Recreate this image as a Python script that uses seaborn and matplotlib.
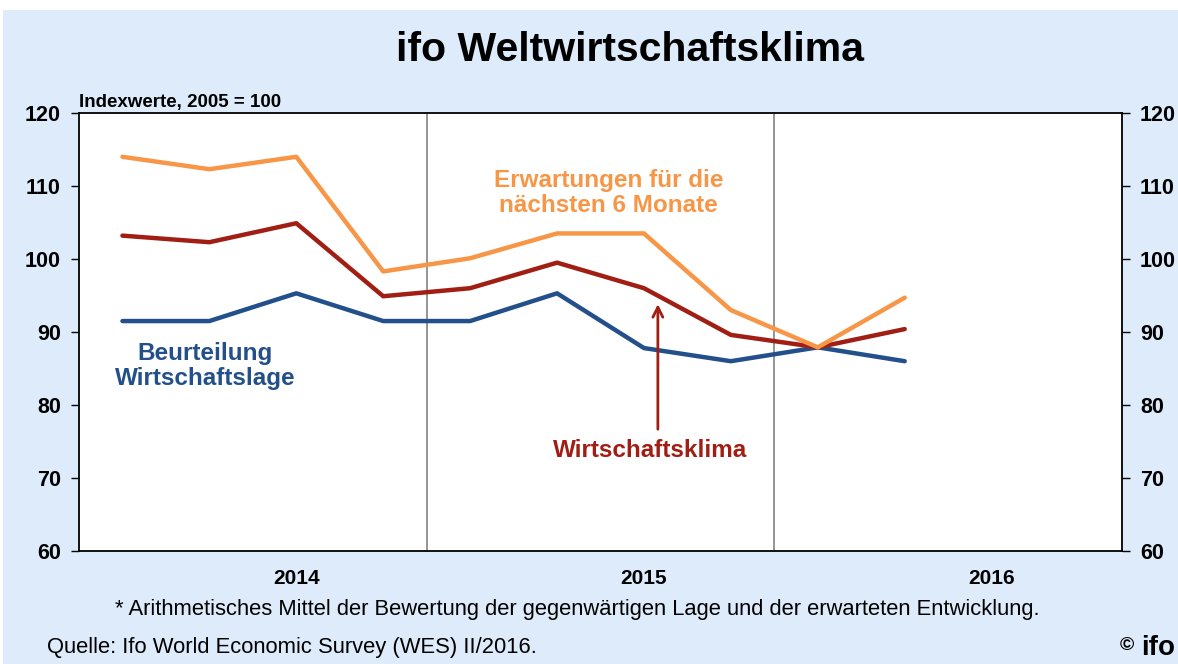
import matplotlib
matplotlib.use("Agg")
import matplotlib.pyplot as plt
from matplotlib.patches import Rectangle
import numpy as np
import pandas as pd
import seaborn as sns

# quarterly values, I/2014 .. II/2016
quarters = ["I/14", "II/14", "III/14", "IV/14", "I/15", "II/15", "III/15", "IV/15", "I/16", "II/16"]
erwartungen = [114.0, 112.3, 114.0, 98.3, 100.1, 103.5, 103.5, 93.0, 87.9, 94.7]
klima = [103.2, 102.3, 104.9, 94.9, 96.0, 99.5, 96.0, 89.6, 87.9, 90.4]
lage = [91.5, 91.5, 95.3, 91.5, 91.5, 95.3, 87.8, 86.0, 87.9, 86.0]
years = ["2014", "2015", "2016"]
yticks = [60, 70, 80, 90, 100, 110, 120]

BG = "#DDEBFB"
ORANGE = "#F79646"
RED = "#A11E14"
BLUE = "#23508A"

sns.set_style("white")
plt.rcParams["font.family"] = ["Liberation Sans", "DejaVu Sans"]
plt.rcParams["text.color"] = "black"
plt.rcParams["ytick.color"] = "black"

df = pd.DataFrame({"q": np.arange(len(quarters)), "Erwartungen": erwartungen,
                   "Klima": klima, "Lage": lage})

fig = plt.figure(figsize=(11.78, 6.64), dpi=100)
fig.patch.set_facecolor("white")
fig.patches.append(Rectangle((3 / 1178, 0), 1, 1 - 10 / 664, transform=fig.transFigure,
                             facecolor=BG, edgecolor="none", zorder=-10))

ax = fig.add_axes([79 / 1178, 1 - 551 / 664, (1122 - 79) / 1178, (551 - 113) / 664])
ax.set_facecolor("white")

for col, c in [("Lage", BLUE), ("Klima", RED), ("Erwartungen", ORANGE)]:
    sns.lineplot(data=df, x="q", y=col, ax=ax, color=c, linewidth=3.2, legend=False)

ax.set_xlim(-0.5, 11.5)
ax.set_ylim(60, 120)
# year separators
for xb in [3.5, 7.5]:
    ax.axvline(xb, color="#8C8C8C", lw=1.3, zorder=0)

ax.set_xticks([])
ax.set_xlabel("")
ax.set_ylabel("")
ax.set_yticks(yticks)
ax.tick_params(axis="y", direction="out", length=6, width=1, colors="black",
               labelsize=15.5, pad=7, left=True)
for lbl in ax.get_yticklabels():
    lbl.set_fontweight("bold")
for s in ax.spines.values():
    s.set_visible(True)
    s.set_color("black")
    s.set_linewidth(1.3)

ax2 = ax.twinx()
ax2.set_ylim(60, 120)
ax2.set_yticks(yticks)
ax2.tick_params(axis="y", direction="out", length=6, width=1, colors="black",
                labelsize=15.5, pad=7)
for lbl in ax2.get_yticklabels():
    lbl.set_fontweight("bold")
for s in ax2.spines.values():
    s.set_visible(False)

# year labels under the third quarter of each year
for i, y in enumerate(years):
    ax.text(2 + 4 * i, -0.062, y, transform=ax.get_xaxis_transform(), ha="center", va="center",
            fontsize=15, fontweight="bold")

ax.text(0.0, 1.004, "Indexwerte, 2005 = 100", transform=ax.transAxes, ha="left", va="bottom",
        fontsize=13.5, fontweight="bold")

ax.text(0.95, 85.3, "Beurteilung\nWirtschaftslage", color=BLUE, ha="center", va="center",
        fontsize=17.5, fontweight="bold", linespacing=1.1)
ax.text(5.59, 109.0, "Erwartungen für die\nnächsten 6 Monate", color=ORANGE, ha="center",
        va="center", fontsize=17.5, fontweight="bold", linespacing=1.1)
ax.text(6.07, 73.7, "Wirtschaftsklima", color=RED, ha="center", va="center",
        fontsize=17.5, fontweight="bold")
ax.annotate("", xy=(6.16, 94.2), xytext=(6.16, 76.3),
            arrowprops=dict(arrowstyle="->", color=RED, lw=2, mutation_scale=18))

fig.text(630 / 1178, 1 - 50 / 664, "ifo Weltwirtschaftsklima", ha="center", va="center",
         fontsize=29.5, fontweight="bold")
fig.text(577 / 1178, 1 - 609 / 664,
         "* Arithmetisches Mittel der Bewertung der gegenwärtigen Lage und der erwarteten Entwicklung.",
         ha="center", va="center", fontsize=15.8)
fig.text(47 / 1178, 1 - 648 / 664, "Quelle: Ifo World Economic Survey (WES) II/2016.",
         ha="left", va="center", fontsize=15.8)
fig.text(1127 / 1178, 1 - 645 / 664, "©", ha="center", va="center", fontsize=14, fontweight="bold")
fig.text(1141 / 1178, 1 - 648 / 664, "ifo", ha="left", va="center", fontsize=20,
         fontweight="heavy")

fig.savefig("out.png", dpi=100, facecolor=fig.get_facecolor())
